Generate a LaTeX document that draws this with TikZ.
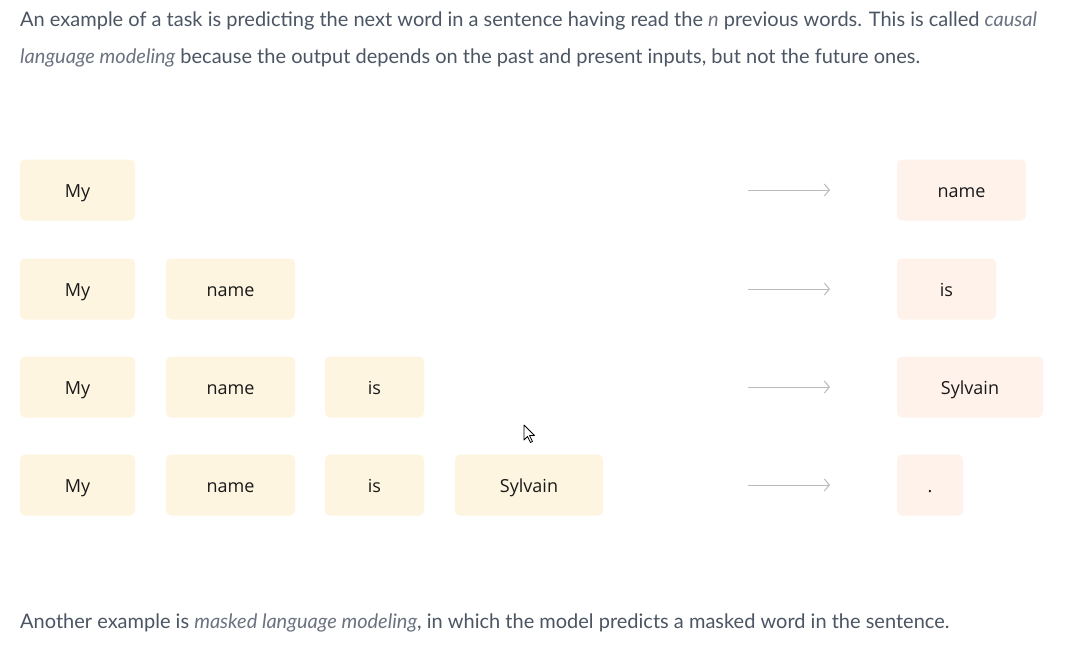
\documentclass[tikz,border=0pt]{standalone}
\usepackage{fontspec}
\setmainfont{Lato}
\newfontfamily\boxfont{Open Sans}
\usetikzlibrary{arrows.meta}
\definecolor{bodygray}{HTML}{4B5563}
\definecolor{emgray}{HTML}{6B7280}
\definecolor{infill}{HTML}{FDF5E0}
\definecolor{outfill}{HTML}{FEF2EA}
\definecolor{arrowgray}{HTML}{BBBBBB}
\tikzset{
  inbox/.style={fill=infill, rounded corners=5pt, minimum height=61pt, inner sep=0pt,
    text height=14pt, text depth=0pt,
    font=\boxfont\fontsize{18}{20}\selectfont, text=black!90},
  outbox/.style={inbox, fill=outfill},
  predarrow/.style={arrowgray, line width=1pt, -{Straight Barb[length=5pt,width=12pt]}},
  para/.style={anchor=base west, inner sep=0pt, text=bodygray, font=\fontsize{20}{22}\selectfont}
}
\newcommand{\term}[1]{{\itshape\color{emgray}#1}}
\begin{document}
\begin{tikzpicture}[x=1pt,y=-1pt]
    \useasboundingbox [fill=white] (0,0) rectangle (1068,654);
    % text above and below
    \node [para] (top1) at (20,26) {An example of a task is predicting the next word in a sentence having read the \term{n} previous words. This is called \term{causal}};
    \node [para] (top2) at (20,63) {\term{language modeling} because the output depends on the past and present inputs, but not the future ones.};
    \node [para] (bottom) at (20,628) {Another example is \term{masked language modeling}, in which the model predicts a masked word in the sentence.};
    % inputs
    \node [inbox, minimum width=115pt] (in11) at (77.5,190) {My};
    \node [inbox, minimum width=115pt] (in21) at (77.5,289) {My};
    \node [inbox, minimum width=129pt] (in22) at (230.5,289) {name};
    \node [inbox, minimum width=115pt] (in31) at (77.5,387) {My};
    \node [inbox, minimum width=129pt] (in32) at (230.5,387) {name};
    \node [inbox, minimum width=99pt] (in33) at (374.5,387) {is};
    \node [inbox, minimum width=115pt] (in41) at (77.5,485) {My};
    \node [inbox, minimum width=129pt] (in42) at (230.5,485) {name};
    \node [inbox, minimum width=99pt] (in43) at (374.5,485) {is};
    \node [inbox, minimum width=148pt] (in44) at (529,485) {Sylvain};
    % outputs
    \node [outbox, minimum width=129pt] (out1) at (961.5,190) {name};
    \node [outbox, minimum width=99pt] (out2) at (946.5,289) {is};
    \node [outbox, minimum width=146pt] (out3) at (970,387) {Sylvain};
    \node [outbox, minimum width=66pt] (out4) at (930,485) {.};
    % arrows
    \foreach \r/\y in {1/190,2/289,3/387,4/485} {
      \coordinate (a\r s) at (748,\y);
      \coordinate (a\r e) at (830,\y);
      \draw [predarrow] (a\r s) -- (a\r e);
    }
    % mouse pointer
    \draw [black, fill=white, line width=0.8pt, line join=round]
      (524,425) -- (524,440) -- (527.5,436.5) -- (530.5,442.5) -- (532.5,441.5) -- (529.5,435.5) -- (534.5,435.5) -- cycle;
\end{tikzpicture}
\end{document}
